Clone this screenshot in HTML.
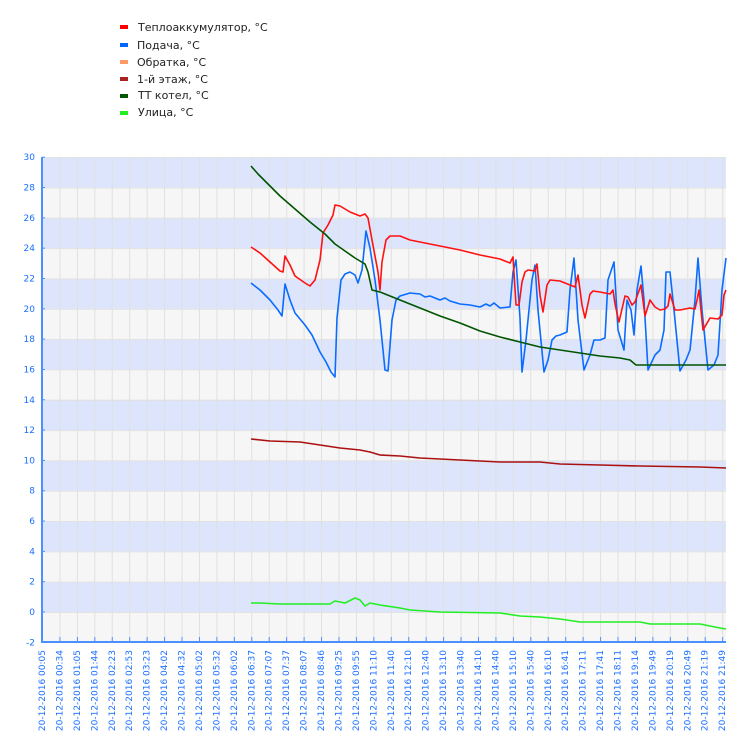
<!DOCTYPE html>
<html><head><meta charset="utf-8"><style>body{margin:0;background:#fff}svg{display:block}</style></head><body>
<svg width="750" height="750" xmlns="http://www.w3.org/2000/svg" font-family="DejaVu Sans, Liberation Sans, sans-serif">
<defs>
<pattern id="vg" patternUnits="userSpaceOnUse" x="42" y="0" width="17.44" height="10"><line x1="0.5" y1="0" x2="0.5" y2="10" stroke="#e0e0e0" stroke-width="1"/></pattern>
<pattern id="hg" patternUnits="userSpaceOnUse" x="0" y="157.2" width="10" height="30.32"><line x1="0" y1="0.5" x2="10" y2="0.5" stroke="#e2e2e2" stroke-width="1"/></pattern>
<pattern id="yt" patternUnits="userSpaceOnUse" x="0" y="156.7" width="10" height="30.32"><line x1="0" y1="0.5" x2="5" y2="0.5" stroke="#4a90ff"/><line x1="0" y1="15.66" x2="3" y2="15.66" stroke="#4a90ff"/></pattern>
<pattern id="xt" patternUnits="userSpaceOnUse" x="42" y="0" width="17.44" height="10"><line x1="0.5" y1="0" x2="0.5" y2="10" stroke="#4a90ff"/></pattern>
</defs>
<rect x="42" y="157.2" width="684" height="485" fill="#f6f6f6"/>
<g fill="#dde5fd">
<rect x="42" y="157.2" width="684" height="30.32"/><rect x="42" y="217.84" width="684" height="30.32"/><rect x="42" y="278.48" width="684" height="30.32"/><rect x="42" y="339.12" width="684" height="30.32"/><rect x="42" y="399.76" width="684" height="30.32"/><rect x="42" y="460.4" width="684" height="30.32"/><rect x="42" y="521.04" width="684" height="30.32"/><rect x="42" y="581.68" width="684" height="30.32"/>
</g>
<rect x="42" y="157" width="684" height="485" fill="url(#hg)"/>
<rect x="50" y="157" width="676" height="485" fill="url(#vg)"/>
<g font-size="11" fill="#222">
<rect x="120" y="25" width="8" height="4" fill="#ff0000"/><text x="138" y="31">Теплоаккумулятор, °C</text>
<rect x="120" y="43" width="8" height="4" fill="#0066ff"/><text x="137" y="49">Подача, °C</text>
<rect x="120" y="60" width="8" height="4" fill="#ff9966"/><text x="137" y="66">Обратка, °C</text>
<rect x="120" y="77" width="8" height="4" fill="#aa2222"/><text x="137" y="83">1-й этаж, °C</text>
<rect x="120" y="94" width="8" height="4" fill="#005500"/><text x="138" y="99">ТТ котел, °C</text>
<rect x="120" y="111" width="8" height="4" fill="#22ee22"/><text x="138" y="116">Улица, °C</text>
</g>
<g fill="none" stroke-width="1.6" stroke-linejoin="round">
<polyline stroke="#22ee22" points="251,603 260,603 280,604 330,604 335,601 345,603 355,598 360,600 365,606 370,603 380,605 400,608 410,610 440,612 500,613 520,616 540,617 560,619 580,622 640,622 650,624 700,624 720,628 726,629"/>
<polyline stroke="#aa1111" points="251,439 270,441 300,442 320,445 340,448 360,450 370,452 380,455 400,456 420,458 440,459 460,460 480,461 500,462 540,462 560,464 600,465 640,466 700,467 726,468"/>
<polyline stroke="#0a6cff" points="251,283 260,290 270,300 278,310 282,316 285,284 290,300 295,313 305,325 312,335 320,352 326,362 331,372 335,377 337,318 341,280 345,274 350,272 355,275 358,283 362,270 366,231 370,248 375,280 380,320 385,370 388,371 392,320 396,300 400,296 410,293 420,294 425,297 430,296 440,300 445,298 450,301 460,304 470,305 480,307 486,304 490,306 494,303 500,308 510,307 513,272 516,260 520,318 522,372 526,340 532,280 535,265 538,310 544,372 548,360 552,340 556,336 560,335 567,332 570,290 574,258 578,320 584,370 590,355 594,340 600,340 605,338 608,280 614,262 618,330 624,350 627,300 631,310 634,335 637,290 641,266 644,300 648,370 655,355 660,350 664,330 666,272 670,272 674,310 680,371 686,360 690,350 695,300 698,258 702,310 708,370 714,365 718,355 722,290 726,258"/>
<polyline stroke="#ff1111" points="251,247 260,253 270,262 280,271 283,272 285,256 290,265 295,276 305,283 310,286 315,280 320,260 323,233 328,225 333,215 335,205 340,206 350,212 360,216 365,214 368,218 372,240 378,272 380,290 382,262 386,240 390,236 400,236 410,240 420,242 440,246 460,250 480,255 500,259 510,263 513,257 516,305 519,305 522,282 525,272 528,270 535,271 537,264 540,295 543,312 547,285 550,280 560,281 570,285 575,287 578,275 582,305 585,318 590,294 593,291 600,292 610,294 613,290 615,304 619,322 625,296 628,297 632,305 635,302 641,285 645,316 650,300 655,307 660,310 665,309 668,306 670,294 675,310 680,310 690,308 695,309 697,300 699,290 703,330 710,318 718,319 722,315 724,295 726,290"/>
<polyline stroke="#005500" points="251,166 258,174 265,181 280,196 295,209 310,222 325,234 335,244 345,251 355,258 365,264 368,272 372,290 380,292 400,300 420,308 440,316 460,323 480,331 500,337 520,342 540,347 560,350 580,353 600,356 620,358 630,360 636,365 726,365"/>
</g>
<rect x="42" y="156" width="6" height="487" fill="url(#yt)"/>
<rect x="50" y="637" width="677" height="5" fill="url(#xt)"/>
<line x1="42" y1="157" x2="42" y2="643" stroke="#4a90ff" stroke-width="2"/>
<line x1="41" y1="642" x2="726" y2="642" stroke="#4a90ff" stroke-width="2"/>
<g font-size="9" fill="#1a6fff" text-anchor="end">
<text x="35" y="160.2">30</text><text x="35" y="190.5">28</text><text x="35" y="220.8">26</text><text x="35" y="251.2">24</text><text x="35" y="281.5">22</text><text x="35" y="311.8">20</text><text x="35" y="342.1">18</text><text x="35" y="372.4">16</text><text x="35" y="402.8">14</text><text x="35" y="433.1">12</text><text x="35" y="463.4">10</text><text x="35" y="493.7">8</text><text x="35" y="524">6</text><text x="35" y="554.4">4</text><text x="35" y="584.7">2</text><text x="35" y="615">0</text><text x="35" y="645.3">-2</text>
<text transform="translate(45,650) rotate(-90)">20-12-2016  00:05</text>
<text transform="translate(62.44,650) rotate(-90)">20-12-2016  00:34</text>
<text transform="translate(79.88,650) rotate(-90)">20-12-2016  01:05</text>
<text transform="translate(97.32,650) rotate(-90)">20-12-2016  01:44</text>
<text transform="translate(114.76,650) rotate(-90)">20-12-2016  02:23</text>
<text transform="translate(132.2,650) rotate(-90)">20-12-2016  02:53</text>
<text transform="translate(149.64,650) rotate(-90)">20-12-2016  03:23</text>
<text transform="translate(167.08,650) rotate(-90)">20-12-2016  04:02</text>
<text transform="translate(184.52,650) rotate(-90)">20-12-2016  04:32</text>
<text transform="translate(201.96,650) rotate(-90)">20-12-2016  05:02</text>
<text transform="translate(219.4,650) rotate(-90)">20-12-2016  05:32</text>
<text transform="translate(236.84,650) rotate(-90)">20-12-2016  06:02</text>
<text transform="translate(254.28,650) rotate(-90)">20-12-2016  06:37</text>
<text transform="translate(271.72,650) rotate(-90)">20-12-2016  07:07</text>
<text transform="translate(289.16,650) rotate(-90)">20-12-2016  07:37</text>
<text transform="translate(306.6,650) rotate(-90)">20-12-2016  08:07</text>
<text transform="translate(324.04,650) rotate(-90)">20-12-2016  08:46</text>
<text transform="translate(341.48,650) rotate(-90)">20-12-2016  09:25</text>
<text transform="translate(358.92,650) rotate(-90)">20-12-2016  09:55</text>
<text transform="translate(376.36,650) rotate(-90)">20-12-2016  11:10</text>
<text transform="translate(393.8,650) rotate(-90)">20-12-2016  11:40</text>
<text transform="translate(411.24,650) rotate(-90)">20-12-2016  12:10</text>
<text transform="translate(428.68,650) rotate(-90)">20-12-2016  12:40</text>
<text transform="translate(446.12,650) rotate(-90)">20-12-2016  13:10</text>
<text transform="translate(463.56,650) rotate(-90)">20-12-2016  13:40</text>
<text transform="translate(481,650) rotate(-90)">20-12-2016  14:10</text>
<text transform="translate(498.44,650) rotate(-90)">20-12-2016  14:40</text>
<text transform="translate(515.88,650) rotate(-90)">20-12-2016  15:10</text>
<text transform="translate(533.32,650) rotate(-90)">20-12-2016  15:40</text>
<text transform="translate(550.76,650) rotate(-90)">20-12-2016  16:10</text>
<text transform="translate(568.2,650) rotate(-90)">20-12-2016  16:41</text>
<text transform="translate(585.64,650) rotate(-90)">20-12-2016  17:11</text>
<text transform="translate(603.08,650) rotate(-90)">20-12-2016  17:41</text>
<text transform="translate(620.52,650) rotate(-90)">20-12-2016  18:11</text>
<text transform="translate(637.96,650) rotate(-90)">20-12-2016  19:14</text>
<text transform="translate(655.4,650) rotate(-90)">20-12-2016  19:49</text>
<text transform="translate(672.84,650) rotate(-90)">20-12-2016  20:19</text>
<text transform="translate(690.28,650) rotate(-90)">20-12-2016  20:49</text>
<text transform="translate(707.72,650) rotate(-90)">20-12-2016  21:19</text>
<text transform="translate(725.16,650) rotate(-90)">20-12-2016  21:49</text>
</g>
</svg>
</body></html>
